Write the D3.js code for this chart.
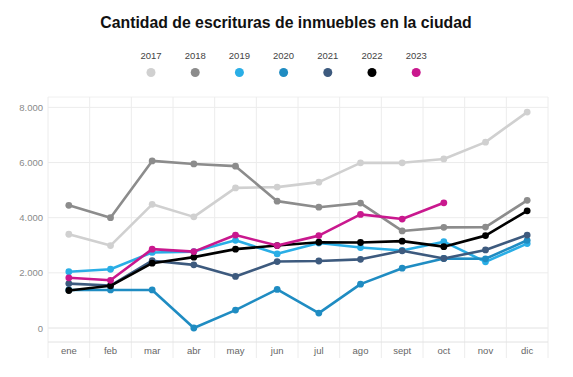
<!DOCTYPE html>
<html>
<head>
<meta charset="utf-8">
<script src="https://cdn.jsdelivr.net/npm/d3@7"></script>
<style>
  body { margin: 0; background: #fff; font-family: "Liberation Sans", Arial, sans-serif; }
  svg { display: block; }
</style>
</head>
<body>
<svg width="573" height="377"></svg>
<script>
const months = ['ene', 'feb', 'mar', 'abr', 'may', 'jun', 'jul', 'ago', 'sept', 'oct', 'nov', 'dic'];
const years = ['2017', '2018', '2019', '2020', '2021', '2022', '2023'];
const colors = ['#d0d0d0', '#8c8c8c', '#2aaee6', '#1f8cc2', '#3d5a7e', '#000000', '#c9188e'];
const yTicks = [0, 2000, 4000, 6000, 8000];

const v2017 = [3400, 2990, 4485, 4030, 5080, 5110, 5290, 5990, 5990, 6130, 6740, 7830];
const v2018 = [4450, 4000, 6060, 5950, 5870, 4600, 4380, 4530, 3520, 3650, 3660, 4630];
const v2019 = [2040, 2130, 2740, 2770, 3180, 2690, 3080, 2920, 2810, 3130, 2400, 3060];
const v2020 = [1380, 1380, 1380, 0, 650, 1400, 540, 1590, 2170, 2520, 2510, 3180];
const v2021 = [1610, 1540, 2440, 2290, 1870, 2410, 2430, 2490, 2800, 2520, 2830, 3370];
const v2022 = [1360, 1530, 2350, 2570, 2860, 2990, 3110, 3100, 3150, 2950, 3350, 4250];
const v2023 = [1820, 1730, 2860, 2770, 3370, 2990, 3350, 4120, 3950, 4540];

const seriesValues = [v2017, v2018, v2019, v2020, v2021, v2022, v2023];

document.addEventListener('DOMContentLoaded', () => {
    const svg = d3.select('svg');
    const left = 48, right = 548, top = 97, bottom = 328;

    const x = d3.scaleBand().domain(months).range([left, right]);
    const y = d3.scaleLinear().domain([0, 8000]).range([bottom, 107.4]);
    const fmt = d3.formatLocale({ decimal: ',', thousands: '.', grouping: [3], currency: ['', ''] }).format(',d');

    // title
    svg.append('text')
        .attr('x', 286).attr('y', 28)
        .attr('text-anchor', 'middle')
        .attr('font-size', 15.8).attr('font-weight', 'bold')
        .attr('fill', '#111')
        .text('Cantidad de escrituras de inmuebles en la ciudad');

    // legend
    const legend = svg.append('g');
    years.forEach((yr, i) => {
        const lx = 151 + i * 44.2;
        legend.append('text')
            .attr('x', lx).attr('y', 59)
            .attr('text-anchor', 'middle')
            .attr('font-size', 9.5).attr('fill', '#444')
            .text(yr);
        legend.append('circle')
            .attr('cx', lx).attr('cy', 72.5).attr('r', 4.5)
            .attr('fill', colors[i]);
    });

    // grid
    const grid = svg.append('g');
    grid.append('line')
        .attr('x1', left).attr('x2', right).attr('y1', top).attr('y2', top)
        .attr('stroke', '#f0f0f0');
    grid.selectAll('line.h')
        .data(yTicks)
        .enter().append('line')
        .attr('class', 'h')
        .attr('x1', left).attr('x2', right)
        .attr('y1', d => y(d)).attr('y2', d => y(d))
        .attr('stroke', d => d === 0 ? '#e2e2e2' : '#ececec');
    const bounds = months.map(m => x(m)).concat([right]);
    grid.selectAll('line.v')
        .data(bounds)
        .enter().append('line')
        .attr('class', 'v')
        .attr('x1', d => d).attr('x2', d => d)
        .attr('y1', top).attr('y2', 358)
        .attr('stroke', '#ececec');
    grid.append('line')
        .attr('x1', left).attr('x2', right).attr('y1', 342).attr('y2', 342)
        .attr('stroke', '#e2e2e2');

    // y labels
    svg.append('g').selectAll('text')
        .data(yTicks)
        .enter().append('text')
        .attr('x', 43).attr('y', d => y(d) + 3.5)
        .attr('text-anchor', 'end')
        .attr('font-size', 9.5).attr('fill', '#8a8a8a')
        .text(d => fmt(d));

    // x labels
    svg.append('g').selectAll('text')
        .data(months)
        .enter().append('text')
        .attr('x', d => x(d) + x.bandwidth() / 2).attr('y', 354)
        .attr('text-anchor', 'middle')
        .attr('font-size', 9.5).attr('fill', '#666')
        .text(d => d);

    // series
    const line = d3.line()
        .x((d, i) => x(months[i]) + x.bandwidth() / 2)
        .y(d => y(d));

    seriesValues.forEach((vals, s) => {
        const g = svg.append('g');
        g.append('path')
            .attr('d', line(vals))
            .attr('fill', 'none')
            .attr('stroke', colors[s])
            .attr('stroke-width', 2.6)
            .attr('stroke-linejoin', 'round');
        g.selectAll('circle')
            .data(vals)
            .enter().append('circle')
            .attr('cx', (d, i) => x(months[i]) + x.bandwidth() / 2)
            .attr('cy', d => y(d))
            .attr('r', 3.4)
            .attr('fill', colors[s]);
    });
});
</script>
</body>
</html>
